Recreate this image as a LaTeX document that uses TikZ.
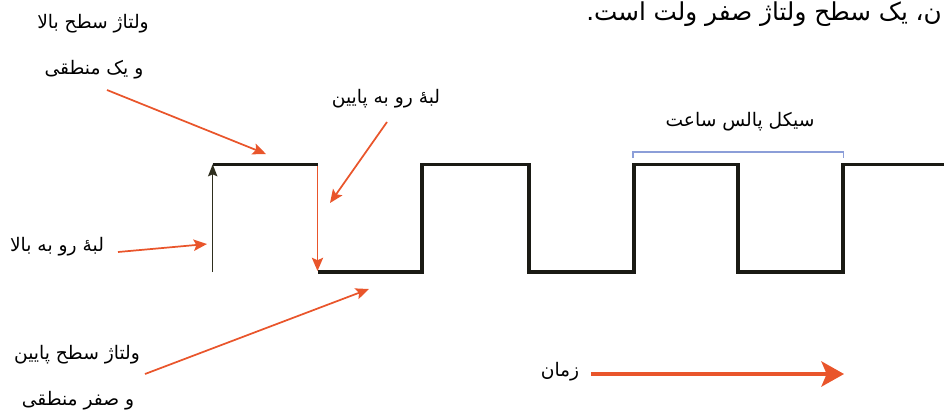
\documentclass[tikz,border=0pt]{standalone}
\usepackage{fontspec}
\newfontfamily\arabicfont[Script=Arabic]{DejaVu Sans}
\TeXXeTstate=1
\usetikzlibrary{arrows.meta}
\definecolor{org}{HTML}{E9552B}
\definecolor{wave}{HTML}{1A1A14}
\definecolor{edge}{HTML}{2E2E1E}
\definecolor{brk}{HTML}{8C9ED8}
\begin{document}
\begin{tikzpicture}[x=0.75pt,y=-0.75pt,
  lbl/.style={font=\arabicfont\fontsize{14}{16}\selectfont, inner sep=0pt, text=black},
  toplbl/.style={font=\arabicfont\fontsize{18.5}{20}\selectfont, inner sep=0pt, text=black},
  wavel/.style={draw=wave, line width=2.5pt, line join=miter},
  pointer/.style={draw=org, line width=1.3pt, -{Stealth[length=10pt,width=8.5pt,inset=2pt]}},
  timearrow/.style={draw=org, line width=2.4pt, -{Stealth[length=17pt,width=19pt,inset=4pt]}},
  risearrow/.style={draw=edge, line width=1.1pt, -{Stealth[length=9pt,width=7pt,inset=1.5pt]}},
  bracket/.style={draw=brk, line width=0.9pt}]
\useasboundingbox (0,0) rectangle (944,411);

% waveform points
\coordinate (r1b) at (212.7,272);
\coordinate (r1t) at (212.7,164.3);
\coordinate (f1t) at (318,164.3);
\coordinate (f1b) at (318,272);
\coordinate (r2b) at (422,272);
\coordinate (r2t) at (422,164.3);
\coordinate (f2t) at (529,164.3);
\coordinate (f2b) at (529,272);
\coordinate (r3b) at (634,272);
\coordinate (r3t) at (634,164.3);
\coordinate (f3t) at (738,164.3);
\coordinate (f3b) at (738,272);
\coordinate (r4b) at (843,272);
\coordinate (r4t) at (843,164.3);
\coordinate (wend) at (944,164.3);

% waveform
\draw[wavel] (r1t) -- (f1t);
\draw[wavel] (f1b) -- (r2b) -- (r2t) -- (f2t) -- (f2b) -- (r3b) -- (r3t) -- (f3t) -- (f3b) -- (r4b) -- (r4t) -- (wend);
% rising edge
\draw[risearrow] (r1b) -- (r1t);
% falling edge
\coordinate (fa) at (317.5,166);
\coordinate (fb) at (317.5,271);
\draw[pointer] (fa) -- (fb);

% bracket
\coordinate (bl) at (633,158);
\coordinate (br) at (843.5,158);
\draw[bracket] (bl) -- ++(0,-6) -| (br);

% labels
\node[toplbl, anchor=north east] (top) at (942,1) {\beginR ن، یک سطح ولتاژ صفر ولت است.\endR};
\node[lbl] (hiA) at (93,24) {\beginR ولتاژ سطح بالا\endR};
\node[lbl] (hiB) at (94,70) {\beginR و یک منطقی\endR};
\node[lbl] (rise) at (57,247) {\beginR لبهٔ رو به بالا\endR};
\node[lbl] (fall) at (386,99) {\beginR لبهٔ رو به پایین\endR};
\node[lbl] (cyc) at (740,122) {\beginR سیکل پالس ساعت\endR};
\node[lbl] (loA) at (77,355) {\beginR ولتاژ سطح پایین\endR};
\node[lbl] (loB) at (78,401) {\beginR و صفر منطقی\endR};
\node[lbl] (time) at (560,372) {\beginR زمان\endR};

% pointers
\coordinate (p1a) at (107,90);
\coordinate (p1b) at (266,154);
\draw[pointer] (p1a) -- (p1b);
\coordinate (p2a) at (118,252);
\coordinate (p2b) at (207,244);
\draw[pointer] (p2a) -- (p2b);
\coordinate (p3a) at (387,122);
\coordinate (p3b) at (330,203);
\draw[pointer] (p3a) -- (p3b);
\coordinate (p4a) at (145,374);
\coordinate (p4b) at (369,289);
\draw[pointer] (p4a) -- (p4b);
\coordinate (ta) at (591,374);
\coordinate (tb) at (844,374);
\draw[timearrow] (ta) -- (tb);
\end{tikzpicture}
\end{document}
